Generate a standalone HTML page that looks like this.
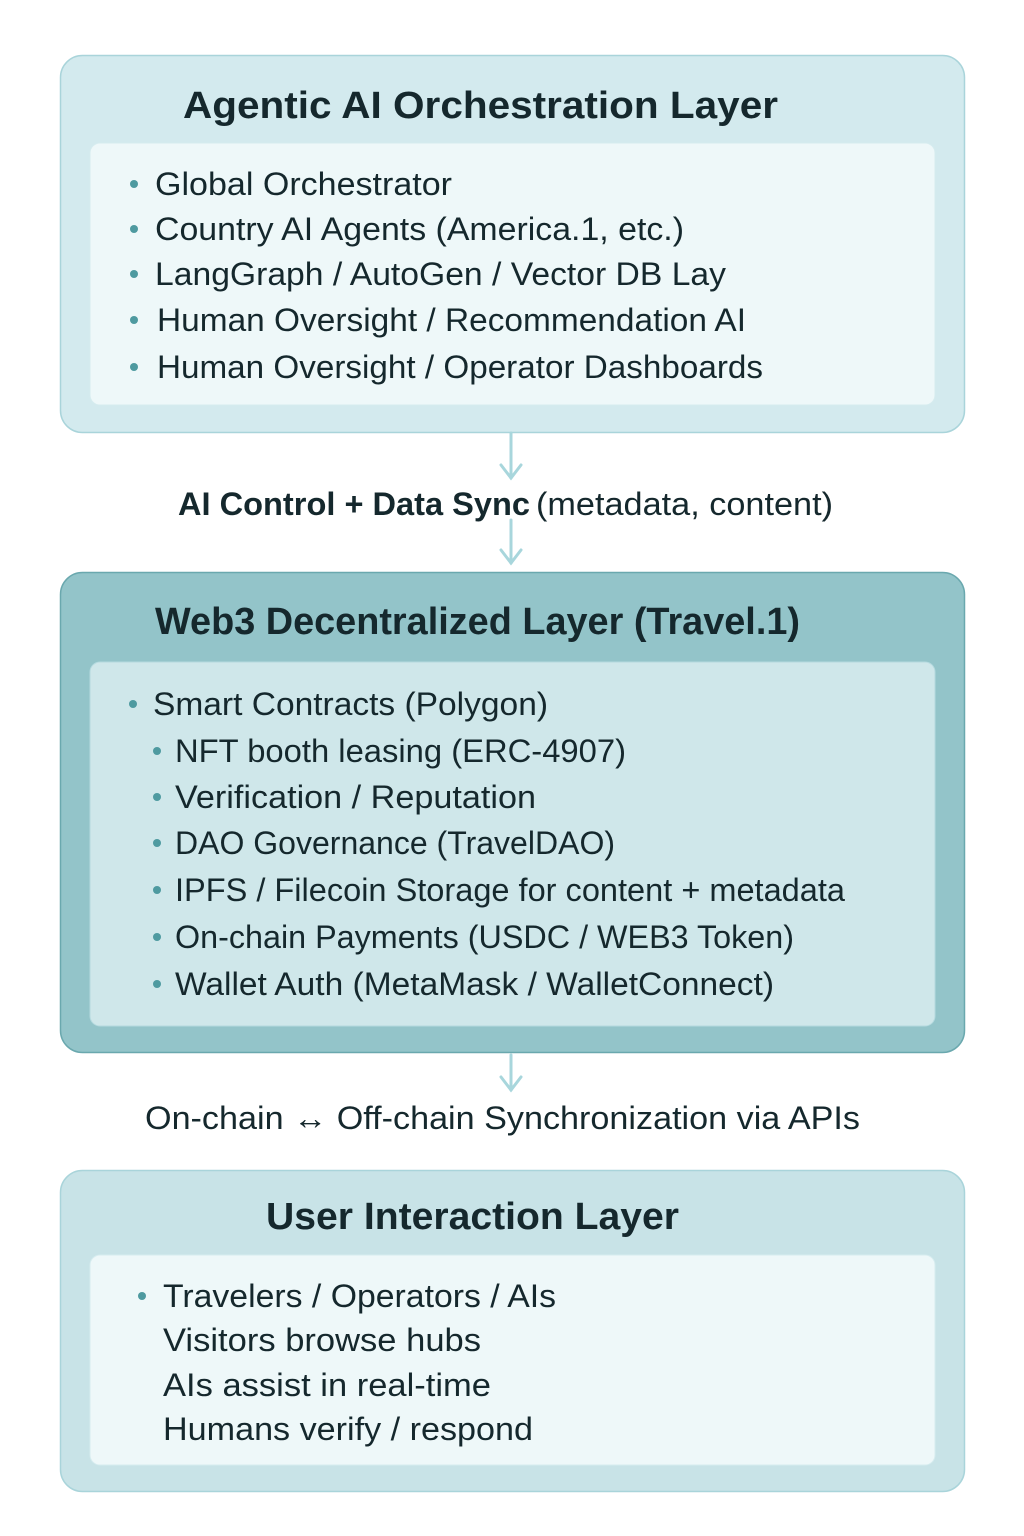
<!DOCTYPE html>
<html><head><meta charset="utf-8"><style>
html,body{margin:0;padding:0;background:#fff;}
svg{display:block;}
text{font-family:"Liberation Sans",sans-serif;fill:#15282d;}
.t{font-weight:bold;font-size:38px;}
.i{font-size:32px;}
</style></head><body>
<svg width="1024" height="1536" viewBox="0 0 1024 1536" xmlns="http://www.w3.org/2000/svg">
<rect width="1024" height="1536" fill="#fff"/>
<!-- Box 1 -->
<rect x="60.5" y="55.5" width="904" height="377" rx="22" fill="#d3eaee" stroke="#a9d4da" stroke-width="1.5"/>
<rect x="90" y="143" width="845" height="262" rx="10" fill="#eef8f9" stroke="#d6ecef"/>
<text class="t" x="183" y="118" textLength="595" lengthAdjust="spacingAndGlyphs">Agentic AI Orchestration Layer</text>
<g fill="#4e9aa0">
<circle cx="134" cy="184" r="4"/><circle cx="134" cy="229" r="4"/><circle cx="134" cy="274" r="4"/><circle cx="134" cy="320" r="4"/><circle cx="134" cy="367" r="4"/>
</g>
<text class="i" x="155" y="195" textLength="297" lengthAdjust="spacingAndGlyphs">Global Orchestrator</text>
<text class="i" x="155" y="240" textLength="529" lengthAdjust="spacingAndGlyphs">Country AI Agents (America.1, etc.)</text>
<text class="i" x="155" y="285" textLength="571" lengthAdjust="spacingAndGlyphs">LangGraph / AutoGen / Vector DB Lay</text>
<text class="i" x="157" y="331" textLength="589" lengthAdjust="spacingAndGlyphs">Human Oversight / Recommendation AI</text>
<text class="i" x="157" y="378" textLength="606" lengthAdjust="spacingAndGlyphs">Human Oversight / Operator Dashboards</text>
<!-- arrows 1 -->
<g stroke="#a8d6dc" stroke-width="3" fill="none" stroke-linecap="round">
<line x1="511" y1="433" x2="511" y2="478"/><polyline points="501,465 511,478 521,465"/>
<line x1="511" y1="520" x2="511" y2="563"/><polyline points="501,550 511,563 521,550"/>
<line x1="511" y1="1055" x2="511" y2="1090"/><polyline points="501,1077 511,1090 521,1077"/>
</g>
<text x="178" y="515" font-size="32" font-weight="bold" textLength="352" lengthAdjust="spacingAndGlyphs">AI Control + Data Sync</text>
<text x="536" y="515" font-size="32" textLength="297" lengthAdjust="spacingAndGlyphs">(metadata, content)</text>
<!-- Box 2 -->
<rect x="60.5" y="572.5" width="904" height="480" rx="22" fill="#93c4c9" stroke="#6aa8ae" stroke-width="1.5"/>
<rect x="90" y="662" width="845" height="364" rx="10" fill="#cfe7ea" stroke="#b5dadf"/>
<text class="t" x="155" y="634" textLength="645" lengthAdjust="spacingAndGlyphs">Web3 Decentralized Layer (Travel.1)</text>
<g fill="#4e9aa0">
<circle cx="133" cy="704" r="4"/><circle cx="157" cy="751" r="4"/><circle cx="157" cy="797" r="4"/><circle cx="157" cy="843" r="4"/><circle cx="157" cy="890" r="4"/><circle cx="157" cy="937" r="4"/><circle cx="157" cy="984" r="4"/>
</g>
<text class="i" x="153" y="715" textLength="395" lengthAdjust="spacingAndGlyphs">Smart Contracts (Polygon)</text>
<text class="i" x="175" y="762" textLength="451" lengthAdjust="spacingAndGlyphs">NFT booth leasing (ERC-4907)</text>
<text class="i" x="175" y="808" textLength="361" lengthAdjust="spacingAndGlyphs">Verification / Reputation</text>
<text class="i" x="175" y="854" textLength="440" lengthAdjust="spacingAndGlyphs">DAO Governance (TravelDAO)</text>
<text class="i" x="175" y="901" textLength="670" lengthAdjust="spacingAndGlyphs">IPFS / Filecoin Storage for content + metadata</text>
<text class="i" x="175" y="948" textLength="619" lengthAdjust="spacingAndGlyphs">On-chain Payments (USDC / WEB3 Token)</text>
<text class="i" x="175" y="995" textLength="599" lengthAdjust="spacingAndGlyphs">Wallet Auth (MetaMask / WalletConnect)</text>
<text x="145" y="1129" font-size="32" textLength="715" lengthAdjust="spacingAndGlyphs">On-chain ↔ Off-chain Synchronization via APIs</text>
<!-- Box 3 -->
<rect x="60.5" y="1170.5" width="904" height="321" rx="22" fill="#c8e3e7" stroke="#a9d4da" stroke-width="1.5"/>
<rect x="90" y="1255" width="845" height="210" rx="10" fill="#eef8f9" stroke="#d6ecef"/>
<text class="t" x="266" y="1229" textLength="413" lengthAdjust="spacingAndGlyphs">User Interaction Layer</text>
<circle cx="142" cy="1296" r="4" fill="#4e9aa0"/>
<text class="i" x="163" y="1307" textLength="393" lengthAdjust="spacingAndGlyphs">Travelers / Operators / AIs</text>
<text class="i" x="163" y="1351" textLength="318" lengthAdjust="spacingAndGlyphs">Visitors browse hubs</text>
<text class="i" x="163" y="1396" textLength="328" lengthAdjust="spacingAndGlyphs">AIs assist in real-time</text>
<text class="i" x="163" y="1440" textLength="370" lengthAdjust="spacingAndGlyphs">Humans verify / respond</text>
</svg>
</body></html>
